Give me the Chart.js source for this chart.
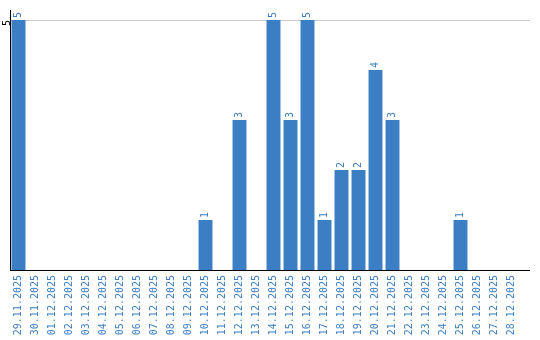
<!DOCTYPE html>
<html>
<head>
<meta charset="utf-8">
<script src="https://cdn.jsdelivr.net/npm/chart.js@4/dist/chart.umd.min.js"></script>
<style>
  html, body { margin: 0; padding: 0; background: #fff; }
  #wrap { width: 540px; height: 340px; }
</style>
</head>
<body>
<div id="wrap"><canvas id="myChart"></canvas></div>
<script>
const labels = ['29.11.2025', '30.11.2025', '01.12.2025', '02.12.2025', '03.12.2025', '04.12.2025',
  '05.12.2025', '06.12.2025', '07.12.2025', '08.12.2025', '09.12.2025', '10.12.2025',
  '11.12.2025', '12.12.2025', '13.12.2025', '14.12.2025', '15.12.2025', '16.12.2025',
  '17.12.2025', '18.12.2025', '19.12.2025', '20.12.2025', '21.12.2025', '22.12.2025',
  '23.12.2025', '24.12.2025', '25.12.2025', '26.12.2025', '27.12.2025', '28.12.2025']
const counts = [5, 0, 0, 0, 0, 0, 0, 0, 0, 0, 0, 1, 0, 3, 0, 5, 3, 5, 1, 2, 2, 4, 3, 0, 0, 0, 1, 0, 0, 0]
const yTicks = [5]

const blue = '#3b7ec3'
const font = { family: 'DejaVu Sans Mono', size: 10 }

// value above each bar, rotated like the axis labels
const valueLabels = {
  id: 'valueLabels',
  afterDatasetsDraw(chart) {
    const ctx = chart.ctx
    const meta = chart.getDatasetMeta(0)
    ctx.save()
    ctx.fillStyle = blue
    ctx.font = '10px "DejaVu Sans Mono"'
    ctx.textAlign = 'left'
    ctx.textBaseline = 'middle'
    meta.data.forEach((bar, i) => {
      if (!counts[i]) return
      ctx.save()
      ctx.translate(bar.x, bar.y - 2)
      ctx.rotate(-Math.PI / 2)
      ctx.fillText(String(counts[i]), 0, 0)
      ctx.restore()
    })
    ctx.restore()
  }
}

// the axis line and grid line run a little past the last category
const extendLines = {
  id: 'extendLines',
  afterDraw(chart) {
    const ctx = chart.ctx
    const area = chart.chartArea
    const snap = p => Math.round(p - 0.5) + 0.5
    const y5 = snap(chart.scales.y.getPixelForValue(5))
    const yb = snap(area.bottom)
    ctx.save()
    ctx.lineWidth = 1
    ctx.strokeStyle = '#c8c8c8'
    ctx.beginPath()
    ctx.moveTo(area.right, y5)
    ctx.lineTo(area.right + 10, y5)
    ctx.stroke()
    ctx.strokeStyle = '#000'
    ctx.beginPath()
    ctx.moveTo(area.right - 1, yb)
    ctx.lineTo(area.right + 10, yb)
    ctx.stroke()
    ctx.restore()
  }
}

const ctx = document.getElementById('myChart')
new Chart(ctx, {
  type: 'bar',
  data: {
    labels: labels,
    datasets: [{
      data: counts,
      backgroundColor: blue,
      barPercentage: 0.82,
      categoryPercentage: 1
    }]
  },
  options: {
    animation: false,
    responsive: true,
    maintainAspectRatio: false,
    layout: { padding: { top: 10, right: 20, bottom: 0, left: 0 } },
    plugins: {
      legend: { display: false },
      tooltip: { enabled: false }
    },
    scales: {
      x: {
        afterFit: scale => { scale.height = 70 },
        grid: { display: false, drawTicks: false },
        border: { color: '#000', width: 1 },
        ticks: {
          color: blue,
          font: font,
          minRotation: 90,
          maxRotation: 90,
          padding: 5,
          autoSkip: false
        }
      },
      y: {
        min: 0,
        max: 5.2,
        afterBuildTicks: scale => { scale.ticks = yTicks.map(v => ({ value: v })) },
        afterFit: scale => { scale.width = 10 },
        grid: { color: '#c8c8c8', drawTicks: false },
        border: { color: '#000', width: 1 },
        ticks: {
          color: '#000',
          font: font,
          minRotation: 90,
          maxRotation: 90,
          padding: 3
        }
      }
    }
  },
  plugins: [valueLabels, extendLines]
})
</script>
</body>
</html>
